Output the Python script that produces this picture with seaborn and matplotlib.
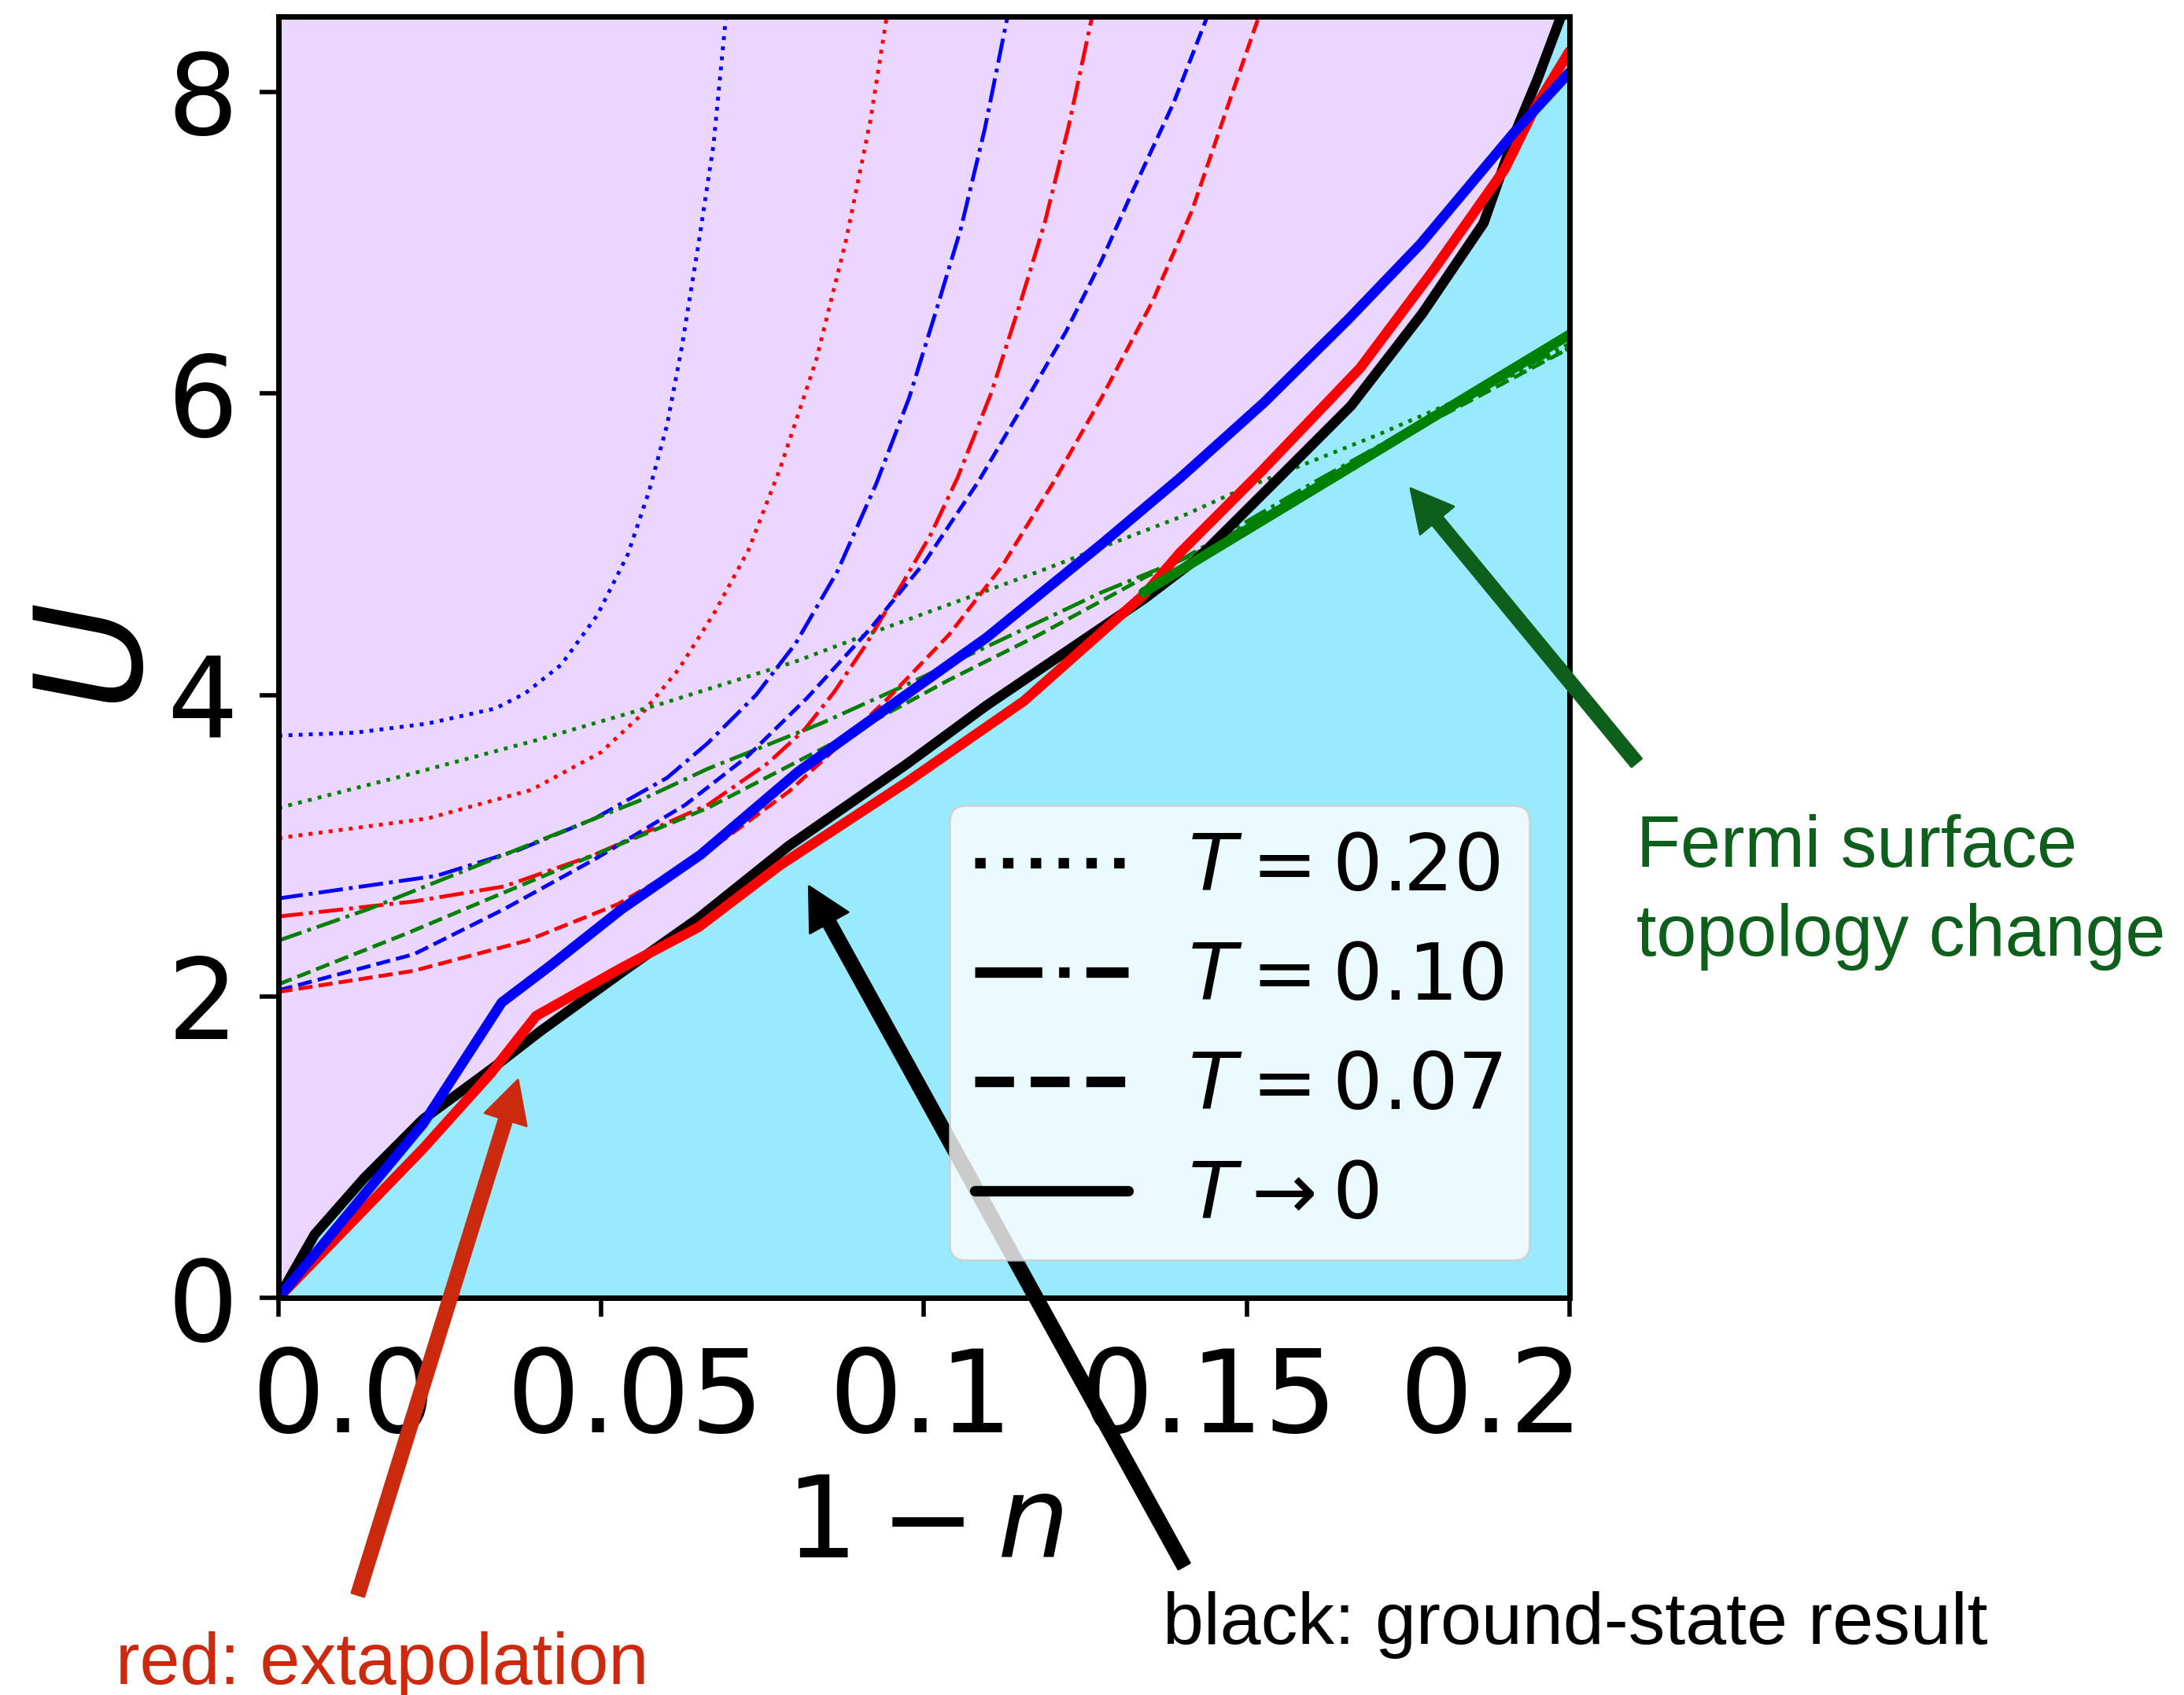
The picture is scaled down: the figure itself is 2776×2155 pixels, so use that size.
import numpy as np
import pandas as pd
import matplotlib
matplotlib.use("Agg")
import matplotlib.pyplot as plt
import seaborn as sns
from matplotlib.lines import Line2D

# ---- data: x = 1-n, y = U ----
# T -> 0 (thick solid lines)
gs_x = [0.0, 0.0056, 0.0133, 0.0224, 0.0329, 0.0406, 0.0532, 0.0651, 0.0791, 0.0973, 0.1097,
        0.1342, 0.1428, 0.1564, 0.1662, 0.1772, 0.1867, 0.1918, 0.1951, 0.2]
gs_u = [0.0, 0.42, 0.795, 1.185, 1.515, 1.77, 2.16, 2.52, 3.0, 3.54, 3.93,
        4.64, 4.92, 5.50, 5.92, 6.53, 7.13, 7.75, 8.09, 8.65]

ext_x = [0.0, 0.0224, 0.0329, 0.0399, 0.0532, 0.0651, 0.0777, 0.0973, 0.1155, 0.1342, 0.1396,
         0.1522, 0.1676, 0.1788, 0.19, 0.1946, 0.2]
ext_u = [0.0, 0.99, 1.49, 1.87, 2.19, 2.46, 2.87, 3.42, 3.96, 4.67, 4.94,
         5.48, 6.17, 6.81, 7.49, 7.89, 8.27]

blue0_x = [0.0, 0.0224, 0.0346, 0.042, 0.0532, 0.0654, 0.0805, 0.0903, 0.1097, 0.1275, 0.1397,
           0.1527, 0.1657, 0.1769, 0.1914, 0.2]
blue0_u = [0.0, 1.155, 1.96, 2.2, 2.58, 2.94, 3.49, 3.79, 4.38, 5.0, 5.44,
           5.94, 6.49, 6.99, 7.73, 8.13]

green0_x = [0.134, 0.2]
green0_u = [4.68, 6.39]

# T = 0.20 (dotted)
b20_x = [0.0, 0.012, 0.0231, 0.0336, 0.0382, 0.0438, 0.0494, 0.0541, 0.0574, 0.0602, 0.0625,
         0.0651, 0.0674, 0.0693, 0.0696]
b20_u = [3.73, 3.75, 3.81, 3.91, 4.01, 4.20, 4.53, 4.93, 5.35, 5.79, 6.31,
         7.0, 7.65, 8.49, 8.65]
r20_x = [0.0, 0.0231, 0.0392, 0.05, 0.056, 0.062, 0.0676, 0.0728, 0.0777, 0.0833, 0.0879,
         0.0917, 0.0942, 0.0947]
r20_u = [3.05, 3.18, 3.37, 3.62, 3.86, 4.17, 4.55, 4.96, 5.50, 6.22, 7.01,
         7.81, 8.49, 8.65]
g20_x = [0.0, 0.02, 0.04, 0.06, 0.08, 0.0899, 0.1179, 0.1397, 0.149, 0.17, 0.1867, 0.2]
g20_u = [3.25, 3.47, 3.70, 3.95, 4.22, 4.38, 4.82, 5.18, 5.36, 5.72, 6.03, 6.30]

# T = 0.10 (dash-dot)
b10_x = [0.0, 0.0245, 0.0371, 0.049, 0.0602, 0.0665, 0.074, 0.0801, 0.0866, 0.0926, 0.0977,
         0.1019, 0.1057, 0.1094, 0.1129, 0.1135]
b10_u = [2.65, 2.80, 2.97, 3.18, 3.45, 3.68, 4.0, 4.34, 4.82, 5.40, 5.97,
         6.55, 7.09, 7.75, 8.49, 8.65]
r10_x = [0.0, 0.021, 0.035, 0.049, 0.0665, 0.0759, 0.0815, 0.0861, 0.0908, 0.0964, 0.101,
         0.1052, 0.1104, 0.115, 0.1187, 0.1224, 0.126, 0.1268]
r10_u = [2.53, 2.63, 2.73, 2.94, 3.27, 3.55, 3.77, 4.02, 4.32, 4.72, 5.06,
         5.44, 6.0, 6.61, 7.13, 7.77, 8.49, 8.65]
g10_x = [0.0, 0.014, 0.028, 0.042, 0.056, 0.0665, 0.084, 0.0964, 0.1275, 0.14, 0.16, 0.18, 0.2]
g10_u = [2.37, 2.58, 2.82, 3.06, 3.30, 3.51, 3.81, 4.05, 4.68, 4.90, 5.40, 5.88, 6.33]

# T = 0.07 (dashed)
b07_x = [0.0, 0.021, 0.035, 0.049, 0.063, 0.0726, 0.0819, 0.0917, 0.1001, 0.1085, 0.1159,
         0.122, 0.1275, 0.1322, 0.1387, 0.1438, 0.1452]
b07_u = [2.04, 2.28, 2.58, 2.91, 3.27, 3.59, 3.98, 4.44, 4.88, 5.42, 5.96,
         6.41, 6.88, 7.33, 7.93, 8.49, 8.65]
r07_x = [0.0, 0.021, 0.0385, 0.0525, 0.0658, 0.0791, 0.0852, 0.0945, 0.1039, 0.1122, 0.1202,
         0.1275, 0.1354, 0.1415, 0.1471, 0.1518, 0.153]
r07_u = [2.03, 2.17, 2.37, 2.61, 2.94, 3.36, 3.60, 3.98, 4.40, 4.86, 5.42,
         5.97, 6.61, 7.21, 7.91, 8.49, 8.65]
g07_x = [0.0, 0.02, 0.04, 0.0665, 0.085, 0.1039, 0.1179, 0.1342, 0.145, 0.17, 0.2]
g07_u = [2.08, 2.42, 2.78, 3.25, 3.66, 4.10, 4.40, 4.78, 5.0, 5.62, 6.30]

xticks = [0.0, 0.05, 0.1, 0.15, 0.2]
xtick_labels = ["0.0", "0.05", "0.1", "0.15", "0.2"]
xtick_label_pos = [0.0101, 0.0552, 0.0995, 0.1441, 0.1879]
yticks = [0, 2, 4, 6, 8]
legend_labels = [r"$T = 0.20$", r"$T = 0.10$", r"$T = 0.07$", r"$T \rightarrow 0$"]

LAVENDER = "#ebd6ff"
CYAN = "#99eaff"
GREEN_TXT = "#0f5f1c"
RED_TXT = "#cc2a0e"

sns.set_style("ticks")
plt.rcParams['font.family'] = ['DejaVu Sans']
plt.rcParams['mathtext.fontset'] = 'dejavusans'
for k in ["text.color", "axes.labelcolor", "xtick.color", "ytick.color", "axes.edgecolor"]:
    plt.rcParams[k] = "black"

fig = plt.figure(figsize=(13.88, 10.775), dpi=200)
ax = fig.add_axes([0.1275, 0.2343, 0.5911, 0.7559])
ax.set_facecolor(LAVENDER)
ax.fill_between(gs_x, 0, gs_u, color=CYAN, lw=0, zorder=0.5)

thin = [(b20_x, b20_u, "blue", ":"), (r20_x, r20_u, "red", ":"), (g20_x, g20_u, "green", ":"),
        (b10_x, b10_u, "blue", "-."), (r10_x, r10_u, "red", "-."), (g10_x, g10_u, "green", "-."),
        (b07_x, b07_u, "blue", "--"), (r07_x, r07_u, "red", "--"), (g07_x, g07_u, "green", "--")]
for xs, us, c, ls in thin:
    sns.lineplot(x=xs, y=us, ax=ax, color=c, linestyle=ls, lw=1.75, estimator=None, sort=False)

thick = [(gs_x, gs_u, "black"), (ext_x, ext_u, "red"), (green0_x, green0_u, "green"),
         (blue0_x, blue0_u, "blue")]
for xs, us, c in thick:
    sns.lineplot(x=xs, y=us, ax=ax, color=c, lw=4.6, estimator=None, sort=False)

ax.set_xlim(0, 0.2)
ax.set_ylim(0, 8.5)
ax.set_xticks(xticks)
ax.set_xticklabels([])
ax.set_yticks(yticks)
ax.set_yticklabels([str(v) for v in yticks])
ax.tick_params(direction="out", length=8.5, width=2, labelsize=51, pad=10)
for sp in ax.spines.values():
    sp.set_linewidth(2.5)
    sp.set_visible(True)
for pos, lab in zip(xtick_label_pos, xtick_labels):
    ax.text(pos, -0.037, lab, transform=ax.get_xaxis_transform(), ha="center", va="top",
            fontsize=53)

ax.set_xlabel(r"$1-n$", fontsize=52)
ax.xaxis.set_label_coords(0.5, -0.135)
ax.set_ylabel(r"$U$", fontsize=68)
ax.yaxis.set_label_coords(-0.082, 0.5)

handles = [Line2D([], [], color="black", ls=ls, lw=4.8) for ls in [":", "-.", "--", "-"]]
ax.legend(handles, legend_labels, loc="lower right", bbox_to_anchor=(0.969, 0.0295),
          borderaxespad=0, fontsize=36, handlelength=1.95, labelspacing=0.42,
          handletextpad=0.76, borderpad=0.32)

arrow_kw = dict(width=6, headwidth=20, headlength=19, shrink=0)
ax.annotate("", xy=(0.0371, 1.446), xytext=(0.0123, -1.97), annotation_clip=False,
            arrowprops=dict(facecolor=RED_TXT, edgecolor=RED_TXT, **arrow_kw))
ax.annotate("", xy=(0.0822, 2.73), xytext=(0.1403, -1.78), annotation_clip=False,
            arrowprops=dict(facecolor="black", edgecolor="black", **arrow_kw))
ax.annotate("", xy=(0.1754, 5.37), xytext=(0.2104, 3.55), annotation_clip=False,
            arrowprops=dict(facecolor=GREEN_TXT, edgecolor=GREEN_TXT, **arrow_kw))

fig.text(0.7493, 0.5195, "Fermi surface\ntopology change", color=GREEN_TXT, fontsize=33,
         family="Liberation Sans", ha="left", va="top", linespacing=1.4)
fig.text(0.5324, 0.0300, "black: ground-state result", color="black", fontsize=33.6,
         family="Liberation Sans", ha="left", va="baseline")
fig.text(0.053, 0.0065, "red: extapolation", color=RED_TXT, fontsize=33,
         family="Liberation Sans", ha="left", va="baseline")

fig.savefig("out.png", dpi=200)
